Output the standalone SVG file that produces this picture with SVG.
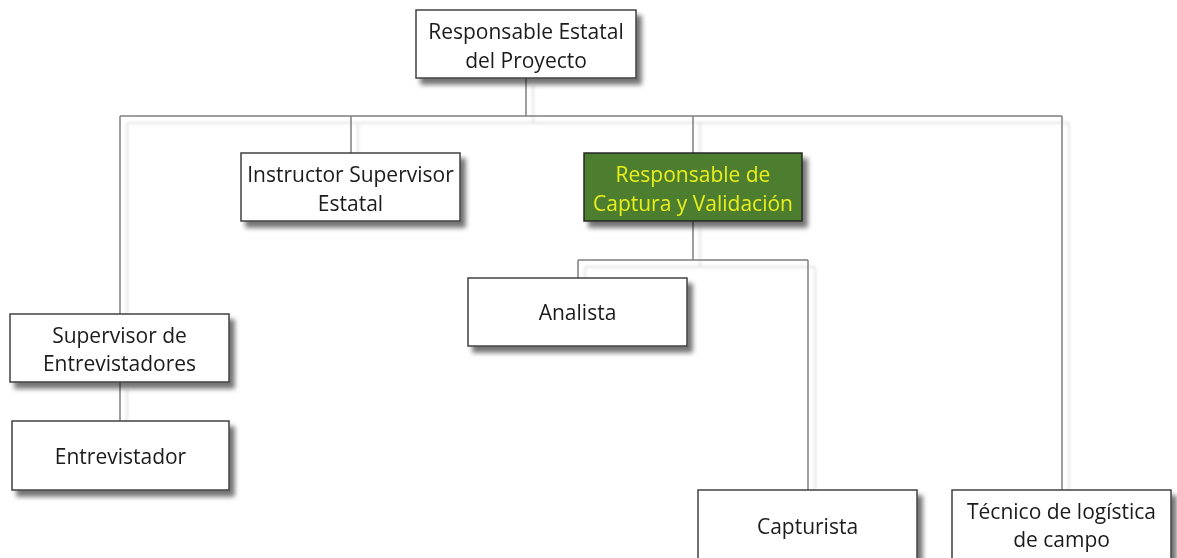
<svg xmlns="http://www.w3.org/2000/svg" width="1177" height="558" viewBox="0 0 1177 558">
<defs>
<filter id="sh" x="-10%" y="-10%" width="130%" height="140%">
<feGaussianBlur in="SourceAlpha" stdDeviation="2.5"/>
<feOffset dx="5" dy="6" result="b"/>
<feComponentTransfer><feFuncA type="linear" slope="0.55"/></feComponentTransfer>
<feMerge><feMergeNode/><feMergeNode in="SourceGraphic"/></feMerge>
</filter>
<filter id="lsh" x="-5%" y="-5%" width="110%" height="110%">
<feGaussianBlur in="SourceAlpha" stdDeviation="1.5"/>
<feOffset dx="7" dy="7" result="b"/>
<feComponentTransfer><feFuncA type="linear" slope="0.15"/></feComponentTransfer>
<feMerge><feMergeNode/><feMergeNode in="SourceGraphic"/></feMerge>
</filter>
</defs>
<style>
.box{fill:#ffffff;stroke:#404040;stroke-width:1.5}
.green{fill:#4e7d2e;stroke:#262626;stroke-width:1.5}
.t{font-family:"Open Sans","Liberation Sans",sans-serif;font-size:21px;fill:#1a1a1a;text-anchor:middle}
.ty{fill:#e8f01e}
.c{fill:none;stroke:#7f7f7f;stroke-width:1.5}
</style>
<rect width="1177" height="558" fill="#ffffff"/>
<g id="connectors" filter="url(#lsh)">
<path class="c" d="M526,78 V116 M120,116 H1062 M120,116 V314 M351,116 V153 M693,116 V153 M1062,116 V490 M120,382 V421 M693,221 V260 M578,260 H808 M578,260 V278 M808,260 V490"/>
</g>
<g id="n1" filter="url(#sh)"><rect class="box" x="416" y="10" width="220" height="68"/>
<text class="t" x="526" y="39">Responsable Estatal</text><text class="t" x="526" y="68">del Proyecto</text></g>
<g id="n2" filter="url(#sh)"><rect class="box" x="241" y="153" width="219" height="68"/>
<text class="t" x="350.5" y="182">Instructor Supervisor</text><text class="t" x="350.5" y="211">Estatal</text></g>
<g id="n3" filter="url(#sh)"><rect class="green" x="584" y="153" width="218" height="68"/>
<text class="t ty" x="693" y="182">Responsable de</text><text class="t ty" x="693" y="211">Captura y Validación</text></g>
<g id="n4" filter="url(#sh)"><rect class="box" x="10" y="314" width="219" height="68"/>
<text class="t" x="119.5" y="343">Supervisor de</text><text class="t" x="119.5" y="371">Entrevistadores</text></g>
<g id="n5" filter="url(#sh)"><rect class="box" x="12" y="421" width="217" height="69"/>
<text class="t" x="120.5" y="464">Entrevistador</text></g>
<g id="n6" filter="url(#sh)"><rect class="box" x="468" y="278" width="219" height="68"/>
<text class="t" x="577.5" y="320">Analista</text></g>
<g id="n7" filter="url(#sh)"><rect class="box" x="698" y="490" width="219" height="80"/>
<text class="t" x="807.5" y="534">Capturista</text></g>
<g id="n8" filter="url(#sh)"><rect class="box" x="952" y="490" width="219" height="80"/>
<text class="t" x="1061.5" y="519">Técnico de logística</text><text class="t" x="1061.5" y="547">de campo</text></g>
</svg>
